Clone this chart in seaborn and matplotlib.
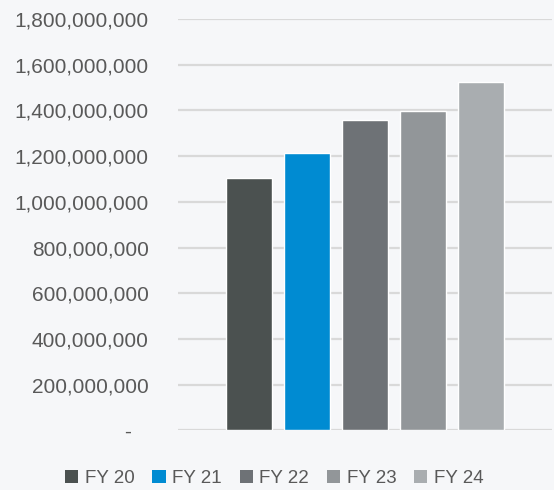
import matplotlib
matplotlib.use("Agg")
import matplotlib.pyplot as plt
import seaborn as sns
import pandas as pd
from matplotlib.patches import Patch

years = ["FY 20", "FY 21", "FY 22", "FY 23", "FY 24"]
values = [1_104_000_000, 1_213_000_000, 1_358_000_000, 1_397_000_000, 1_524_000_000]
colors = ["#4b5150", "#008bd2", "#6e7276", "#929699", "#a9adb0"]
yticks = [0, 200_000_000, 400_000_000, 600_000_000, 800_000_000, 1_000_000_000,
          1_200_000_000, 1_400_000_000, 1_600_000_000, 1_800_000_000]

df = pd.DataFrame({"cat": ["all"] * len(years), "year": years, "value": values})

bg = "#f6f7f9"
sns.set_theme(style="white")
plt.rcParams["font.family"] = ["Liberation Sans", "DejaVu Sans"]

fig = plt.figure(figsize=(5.54, 4.9), dpi=100, facecolor=bg)
ax = fig.add_axes([0.321, 0.122, 0.675, 0.839])
ax.set_facecolor(bg)

sns.barplot(data=df, x="cat", y="value", hue="year", palette=colors,
            width=0.775, gap=0.2, ax=ax, legend=False, saturation=1)

ax.set_ylim(0, 1_800_000_000)
ax.set_xlim(-0.5, 0.5)
ax.set_yticks(yticks)
ax.set_yticklabels([f"{v:,.0f}" if v else "-   " for v in yticks])
ax.tick_params(axis="y", length=0, pad=21, labelsize=15, labelcolor="#595959")
ax.set_xticks([])
ax.set_xlabel("")
ax.set_ylabel("")
ax.yaxis.grid(True, color="#d9d9d9", linewidth=1.6)
ax.set_axisbelow(True)
for s in ax.spines.values():
    s.set_visible(False)

handles = [Patch(facecolor=c, edgecolor="none") for c in colors]
fig.legend(handles, years, loc="lower center", bbox_to_anchor=(0.495, -0.028), ncol=5,
           frameon=False, fontsize=13.5, labelcolor="#595959",
           handlelength=0.7, handleheight=0.7, handletextpad=0.35,
           columnspacing=0.95)

fig.savefig("out.png", dpi=100, facecolor=bg)
